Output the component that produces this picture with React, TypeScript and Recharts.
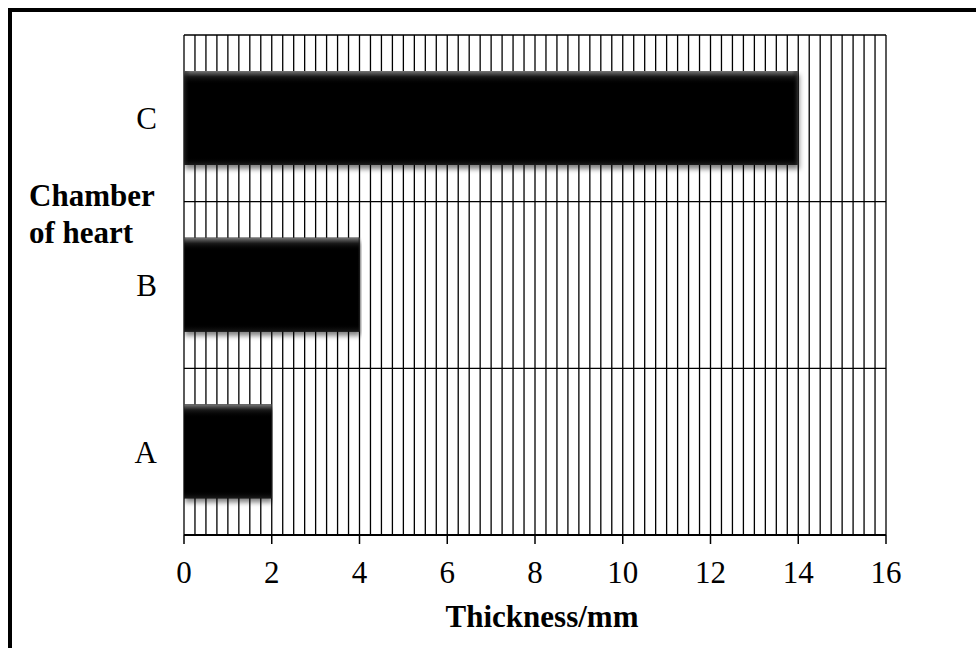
import React from 'react';
import { BarChart, Bar, XAxis, YAxis, CartesianGrid, Label } from 'recharts';

const CATEGORIES = ['A', 'B', 'C'];
const THICKNESS_MM = [2, 4, 14];
const X_TICKS = [0, 2, 4, 6, 8, 10, 12, 14, 16];
const X_MAX = 16;
const GRID_STEP = 0.25;

const data = CATEGORIES.map((name, i) => ({ name, value: THICKNESS_MM[i] }));
const gridValues: number[] = [];
for (let v = 0; v <= X_MAX + 1e-9; v += GRID_STEP) gridValues.push(Number(v.toFixed(2)));

const FONT = '"Liberation Serif", "Times New Roman", serif';

const BarShape = (props: any) => {
  const { x, y, width, height } = props;
  if (!width || !height) return null;
  return (
    <g>
      <rect x={x} y={y} width={width} height={height} fill="#000" filter="url(#barShadow)" />
      <rect x={x} y={y} width={width} height={height} fill="url(#barTop)" />
      <rect x={x} y={y} width={width} height={height} fill="url(#barSide)" />
    </g>
  );
};

export default function App() {
  return (
    <div
      style={{
        position: 'fixed',
        left: 0,
        top: 0,
        width: 976,
        height: 648,
        overflow: 'hidden',
        background: '#fff',
      }}
    >
      <div
        style={{
          position: 'absolute',
          left: 8,
          top: 8,
          width: 1200,
          height: 900,
          border: '4px solid #000',
        }}
      />
      <div style={{ position: 'absolute', left: 12, top: 12 }}>
        <BarChart
          width={956}
          height={628}
          data={data}
          layout="vertical"
          margin={{ top: 23, right: 82, bottom: 45, left: 0 }}
          barSize={94}
        >
          <defs>
            <filter id="barShadow" x="0%" y="0%" width="101%" height="125%">
              <feDropShadow dx="1" dy="4" stdDeviation="2.5" floodColor="#000" floodOpacity="0.5" />
            </filter>
            <linearGradient id="barTop" x1="0" y1="0" x2="0" y2="1">
              <stop offset="0%" stopColor="#777" stopOpacity={1} />
              <stop offset="6%" stopColor="#1a1a1a" stopOpacity={1} />
              <stop offset="14%" stopColor="#000" stopOpacity={0} />
              <stop offset="92%" stopColor="#000" stopOpacity={0} />
              <stop offset="100%" stopColor="#1c1c1c" stopOpacity={1} />
            </linearGradient>
            <linearGradient id="barSide" x1="0" y1="0" x2="1" y2="0">
              <stop offset="0%" stopColor="#333" stopOpacity={0.6} />
              <stop offset="1%" stopColor="#000" stopOpacity={0} />
              <stop offset="99%" stopColor="#000" stopOpacity={0} />
              <stop offset="100%" stopColor="#444" stopOpacity={0.7} />
            </linearGradient>
          </defs>
          <CartesianGrid
            stroke="#000"
            strokeWidth={1.3}
            strokeDasharray=""
            verticalValues={gridValues}
            horizontalCoordinatesGenerator={({ offset }: any) => [
              offset.top,
              offset.top + offset.height / 3,
              offset.top + (2 * offset.height) / 3,
            ]}
          />
          <XAxis
            type="number"
            domain={[0, X_MAX]}
            ticks={X_TICKS}
            interval={0}
            height={60}
            tickSize={9}
            tickMargin={17}
            axisLine={{ stroke: '#000', strokeWidth: 2 }}
            tickLine={{ stroke: '#000', strokeWidth: 1.5 }}
            tick={{ fill: '#000', fontSize: 31, fontFamily: FONT }}
          >
            <Label
              content={({ viewBox }: any) => (
                <text
                  x={viewBox.x + viewBox.width / 2 + 7}
                  y={615}
                  textAnchor="middle"
                  fontFamily={FONT}
                  fontWeight="bold"
                  fontSize={31}
                  fill="#000"
                >
                  Thickness/mm
                </text>
              )}
            />
          </XAxis>
          <YAxis
            type="category"
            dataKey="name"
            reversed
            width={172}
            tickSize={0}
            tickMargin={27}
            axisLine={false}
            tickLine={false}
            tick={{ fill: '#000', fontSize: 31, fontFamily: FONT }}
          >
            <Label
              content={() => (
                <text x={17} y={194} fontFamily={FONT} fontWeight="bold" fontSize={31} fill="#000">
                  <tspan x={17} y={194}>Chamber</tspan>
                  <tspan x={17} y={231}>of heart</tspan>
                </text>
              )}
            />
          </YAxis>
          <Bar dataKey="value" isAnimationActive={false} shape={BarShape} />
        </BarChart>
      </div>
    </div>
  );
}
